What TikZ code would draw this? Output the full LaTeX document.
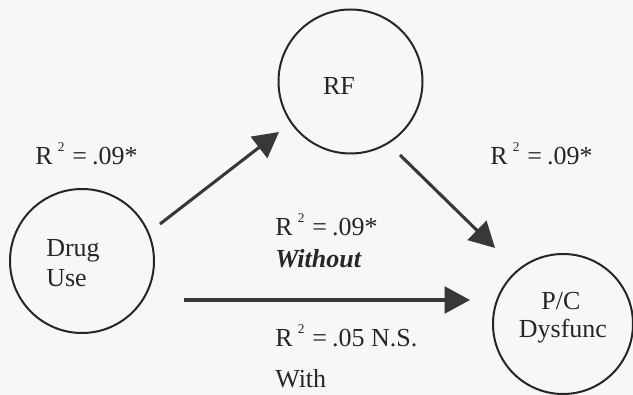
\documentclass[tikz,border=0pt]{standalone}
\usepackage{fontspec}
\setmainfont{Liberation Serif}
\usetikzlibrary{arrows.meta,calc}
\begin{document}
\begin{tikzpicture}[x=0.75pt,y=-0.75pt,
  every node/.style={font=\fontsize{19.5}{23}\selectfont,text=black!85},
  var/.style={circle,draw=black!85,line width=1.5pt,minimum size=108pt,inner sep=0pt},
  lbl/.style={anchor=base west,inner sep=0pt},
  arr/.style={draw=black!78,line width=2.3pt,-{Triangle[length=19pt,width=20pt]}},
  rsq/.style={lbl}]
\fill[black!3] (0,0) rectangle (633,395);
\useasboundingbox (0,0) rectangle (633,395);
% variables
\node[var] (du) at (82,261) {};
\node[var] (rf) at (350.5,81.5) {};
\node[var,minimum size=105pt] (pc) at (563,324) {};
% texts inside circles
\node[lbl] (dut1) at (46,257) {Drug};
\node[lbl] (dut2) at (46,287) {Use};
\node[anchor=base,inner sep=0pt] (rft) at (339,95) {RF};
\node[anchor=base,inner sep=0pt] (pct1) at (561,310) {P/C};
\node[anchor=base,inner sep=0pt] (pct2) at (563,338) {Dysfunc};
% connectors
\draw[arr] ($(du)+(78,-37)$) -- ($(rf)+(-71.5,50.5)$);
\draw[arr] ($(rf)+(49.5,73.5)$) -- ($(pc)+(-68,-76)$);
\draw[arr] ($(du)+(102,39)$) -- ($(pc)+(-93,-24)$);
% labels
\newcommand{\rsqd}[1]{R\hspace{0.2em}\raisebox{0.5em}{\fontsize{10}{11}\selectfont 2}\hspace{0.3em}=\hspace{0.2em}#1}
\node[rsq] (l1) at (35,165) {\rsqd{.09*}};
\node[rsq] (l2) at (490,165) {\rsqd{.09*}};
\node[rsq] (l3) at (275,236) {\rsqd{.09*}};
\node[rsq] (l4) at (275,268) {\textbf{\textit{Without}}};
\node[rsq] (l5) at (275,347) {\rsqd{.05 N.S.}};
\node[rsq] (l6) at (275,388) {With};
\end{tikzpicture}
\end{document}
